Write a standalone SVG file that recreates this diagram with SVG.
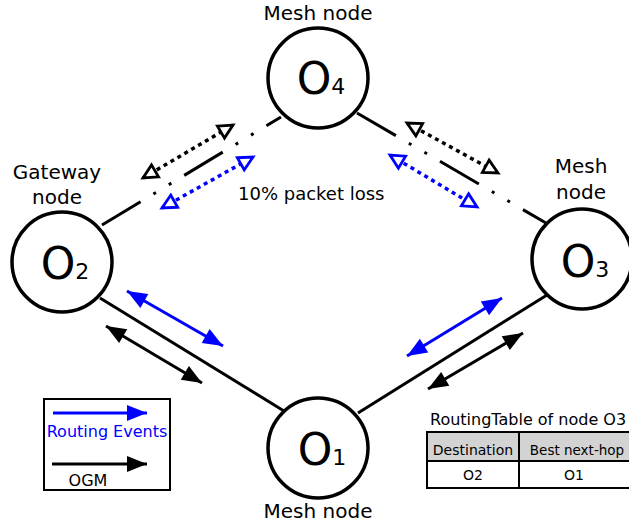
<svg xmlns="http://www.w3.org/2000/svg" width="629" height="529" viewBox="0 0 629 529">
<style>
text{font-family:"DejaVu Sans","Liberation Sans",sans-serif;fill:#000}
.lbl{font-size:20px;text-anchor:middle}
.big{font-size:44px;text-anchor:middle}
.sub{font-size:22px}
.node{fill:#fff;stroke:#000;stroke-width:3.5}
.link{stroke:#000;stroke-width:3;fill:none}
.dd{stroke-dasharray:45 15 3 15 3 15}
.dotk{stroke:#000;stroke-width:3.5;stroke-dasharray:4 4;fill:none;marker-start:url(#openK);marker-end:url(#openK)}
.dotb{stroke:#0000ff;stroke-width:3.5;stroke-dasharray:4 4;fill:none;marker-start:url(#openB);marker-end:url(#openB)}
.solk{stroke:#000;stroke-width:3;fill:none;marker-start:url(#fillK);marker-end:url(#fillK)}
.solb{stroke:#0000ff;stroke-width:3;fill:none;marker-start:url(#fillB);marker-end:url(#fillB)}
</style>
<defs>
<marker id="openK" markerUnits="userSpaceOnUse" markerWidth="22" markerHeight="20" refX="17" refY="9" orient="auto-start-reverse" overflow="visible"><path d="M3,2 L17,9 L3,16 z" fill="#fff" stroke="#000" stroke-width="2.8"/></marker>
<marker id="openB" markerUnits="userSpaceOnUse" markerWidth="22" markerHeight="20" refX="17" refY="9" orient="auto-start-reverse" overflow="visible"><path d="M3,2 L17,9 L3,16 z" fill="#fff" stroke="#0000ff" stroke-width="2.8"/></marker>
<marker id="fillK" markerUnits="userSpaceOnUse" markerWidth="22" markerHeight="18" refX="20" refY="8" orient="auto-start-reverse" overflow="visible"><path d="M0,0 L20,8 L0,16 z" fill="#000"/></marker>
<marker id="fillB" markerUnits="userSpaceOnUse" markerWidth="22" markerHeight="18" refX="20" refY="8" orient="auto-start-reverse" overflow="visible"><path d="M0,0 L20,8 L0,16 z" fill="#0000ff"/></marker>
</defs>
<rect width="629" height="529" fill="#fff"/>
<g id="connectors">
<line class="link dd" x1="102" y1="225" x2="281" y2="117"/>
<line class="link dd" x1="357" y1="113" x2="546" y2="223"/>
<line class="link" x1="100" y1="298" x2="284" y2="411"/>
<line class="link" x1="358" y1="413" x2="547" y2="295"/>
<line class="dotk" x1="143" y1="178" x2="233" y2="125"/>
<line class="dotb" x1="162" y1="208" x2="253" y2="157"/>
<line class="dotk" x1="407" y1="123" x2="498" y2="173"/>
<line class="dotb" x1="390" y1="155" x2="477" y2="207"/>
<line class="solb" x1="127" y1="291" x2="223" y2="346"/>
<line class="solk" x1="106" y1="326" x2="202" y2="383"/>
<line class="solb" x1="407" y1="356" x2="502" y2="298"/>
<line class="solk" x1="428" y1="389" x2="523" y2="333"/>
</g>
<text x="238" y="200" style="font-size:18px">10% packet loss</text>
<g id="node-o4">
<text class="lbl" x="318" y="20">Mesh node</text>
<circle class="node" cx="318" cy="78" r="50"/>
<text class="big" x="321" y="94">O<tspan class="sub">4</tspan></text>
</g>
<g id="node-o2">
<text class="lbl" x="57" y="179">Gateway</text>
<text class="lbl" x="57" y="204">node</text>
<circle class="node" cx="62" cy="262" r="50"/>
<text class="big" x="65" y="279">O<tspan class="sub">2</tspan></text>
</g>
<g id="node-o3">
<text class="lbl" x="581" y="173">Mesh</text>
<text class="lbl" x="581" y="199">node</text>
<circle class="node" cx="582" cy="259" r="50"/>
<text class="big" x="585" y="277">O<tspan class="sub">3</tspan></text>
</g>
<g id="node-o1">
<circle class="node" cx="318" cy="448" r="50"/>
<text class="big" x="322" y="465">O<tspan class="sub">1</tspan></text>
<text class="lbl" x="318" y="518">Mesh node</text>
</g>
<g id="legend">
<rect x="44" y="399" width="126" height="91" fill="#fff" stroke="#000" stroke-width="2"/>
<line x1="53" y1="413" x2="147" y2="413" stroke="#0000ff" stroke-width="3" marker-end="url(#fillB)"/>
<text x="107" y="437" style="font-size:16px;fill:#0000ff;text-anchor:middle">Routing Events</text>
<line x1="52" y1="464" x2="147" y2="464" stroke="#000" stroke-width="3" marker-end="url(#fillK)"/>
<text x="88" y="486" style="font-size:16px;text-anchor:middle">OGM</text>
</g>
<g id="routing-table">
<text x="430" y="425" style="font-size:16px">RoutingTable of node O3</text>
<rect x="427" y="432" width="205" height="29" fill="#d3d3d3" stroke="#000" stroke-width="2"/>
<rect x="427" y="461" width="205" height="27" fill="#fff" stroke="#000" stroke-width="2"/>
<line x1="519" y1="432" x2="519" y2="488" stroke="#000" stroke-width="2"/>
<text x="473" y="455" style="font-size:14px;text-anchor:middle">Destination</text>
<text x="577" y="455" style="font-size:13.5px;text-anchor:middle">Best next-hop</text>
<text x="473" y="480" style="font-size:14px;text-anchor:middle">O2</text>
<text x="574" y="480" style="font-size:14px;text-anchor:middle">O1</text>
</g>
</svg>
